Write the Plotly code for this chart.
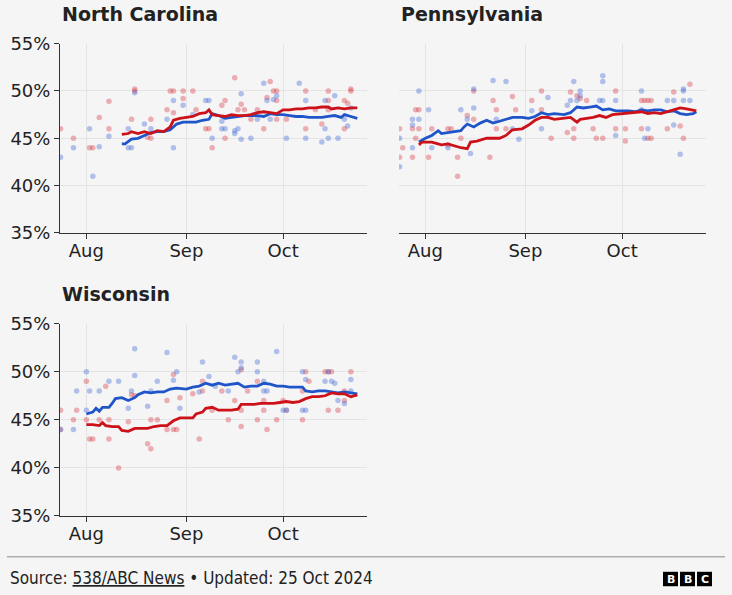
import plotly.graph_objects as go

W, H = 732, 595

# ---------------- DATA ----------------
states = ["North Carolina", "Pennsylvania", "Wisconsin"]
month_ticks = ["2024-08-01", "2024-09-01", "2024-10-01"]
month_labels = ["Aug", "Sep", "Oct"]
y_ticks = [35, 40, 45, 50, 55]
y_labels = ["35%", "40%", "45%", "50%", "55%"]

# North Carolina - averages
nc_harris_avg_dates = ["08-12", "08-13", "08-15", "08-17", "08-19", "08-21", "08-23", "08-25", "08-27", "08-29",
                       "08-31", "09-02", "09-04", "09-06", "09-08", "09-09", "09-11", "09-13", "09-15", "09-17",
                       "09-19", "09-21", "09-23", "09-25", "09-27", "09-29", "10-01", "10-03", "10-05", "10-07",
                       "10-09", "10-11", "10-13", "10-15", "10-17", "10-19", "10-20", "10-22", "10-24"]
nc_harris_avg = [44.4, 44.4, 44.9, 45.0, 45.3, 45.6, 45.7, 45.7, 45.9, 46.5,
                 46.7, 46.7, 46.7, 46.9, 47.0, 47.6, 47.4, 47.1, 47.2, 47.3,
                 47.4, 47.4, 47.4, 47.3, 47.6, 47.5, 47.5, 47.4, 47.3, 47.3,
                 47.2, 47.2, 47.2, 47.3, 47.4, 47.2, 47.5, 47.3, 47.1]
nc_trump_avg_dates = ["08-12", "08-14", "08-15", "08-17", "08-19", "08-21", "08-23", "08-25", "08-27", "08-28",
                      "08-30", "09-01", "09-03", "09-05", "09-07", "09-08", "09-09", "09-11", "09-13", "09-15",
                      "09-17", "09-19", "09-21", "09-23", "09-25", "09-27", "09-29", "10-01", "10-03", "10-05",
                      "10-07", "10-09", "10-11", "10-13", "10-15", "10-16", "10-18", "10-20", "10-22", "10-24"]
nc_trump_avg = [45.4, 45.5, 45.7, 45.5, 45.7, 45.5, 45.8, 45.7, 46.2, 46.9,
                47.1, 47.2, 47.3, 47.6, 47.7, 48.0, 47.5, 47.4, 47.3, 47.5,
                47.4, 47.4, 47.5, 47.7, 47.8, 47.7, 47.6, 48.0, 48.0, 48.1,
                48.1, 48.2, 48.2, 48.3, 48.3, 48.1, 48.2, 48.1, 48.2, 48.2]
# North Carolina - polls
nc_harris_poll_dates = ["07-24", "07-28", "08-02", "08-03", "08-05", "08-08", "08-14", "08-14", "08-15", "08-16",
                        "08-19", "08-21", "08-26", "08-28", "08-28", "08-31", "09-03", "09-07", "09-08", "09-09",
                        "09-12", "09-13", "09-12", "09-16", "09-16", "09-17", "09-18", "09-18", "09-21", "09-22",
                        "09-23", "09-25", "09-26", "09-27", "09-28", "09-29", "10-02", "10-06", "10-08", "10-08",
                        "10-13", "10-14", "10-14", "10-15", "10-17", "10-18", "10-20", "10-21", "10-22"]
nc_harris_polls = [43.0, 44.0, 46.0, 41.0, 44.1, 45.2, 46.0, 44.0, 44.0, 49.8,
                   46.5, 46.0, 47.0, 49.0, 44.0, 48.5, 47.5, 49.0, 49.0, 45.0,
                   46.0, 46.0, 46.8, 45.8, 45.5, 46.0, 49.7, 44.9, 45.0, 47.5,
                   47.0, 50.8, 49.0, 47.0, 49.1, 49.5, 45.0, 50.8, 49.0, 45.0,
                   44.6, 49.0, 46.0, 45.0, 49.5, 45.0, 47.0, 46.3, 48.2]
nc_trump_poll_dates = ["07-24", "07-28", "08-02", "08-03", "08-05", "08-08", "08-08", "08-16", "08-16", "08-15",
                       "08-21", "08-20", "08-21", "08-26", "08-27", "08-28", "08-28", "08-31", "08-31", "09-03",
                       "09-04", "09-07", "09-08", "09-09", "09-12", "09-13", "09-13", "09-16", "09-17", "09-18",
                       "09-19", "09-21", "09-23", "09-25", "09-26", "09-27", "09-28", "09-29", "09-29", "09-29",
                       "10-02", "10-08", "10-08", "10-11", "10-13", "10-15", "10-15", "10-15", "10-20", "10-20",
                       "10-21", "10-22", "10-22"]
nc_trump_polls = [46.0, 45.0, 44.0, 44.0, 47.2, 48.9, 46.0, 50.2, 50.0, 47.0,
                  47.0, 45.1, 45.0, 48.0, 50.0, 50.0, 47.7, 50.0, 49.2, 50.0,
                  48.0, 46.0, 46.0, 44.0, 48.5, 49.0, 45.0, 51.4, 48.0, 48.6,
                  48.0, 47.0, 48.0, 46.0, 49.3, 51.0, 50.0, 50.0, 49.0, 47.0,
                  47.0, 50.0, 46.0, 48.0, 46.5, 50.0, 49.0, 48.0, 46.0, 49.0,
                  48.7, 50.2, 50.0]

# Pennsylvania - averages
pa_harris_avg_dates = ["07-30", "08-01", "08-03", "08-05", "08-06", "08-08", "08-10", "08-12", "08-13", "08-14",
                       "08-16", "08-18", "08-20", "08-22", "08-24", "08-26", "08-28", "08-31", "09-02", "09-04",
                       "09-06", "09-08", "09-10", "09-13", "09-15", "09-17", "09-19", "09-21", "09-23", "09-25",
                       "09-27", "09-29", "10-01", "10-03", "10-05", "10-07", "10-09", "10-11", "10-13", "10-15",
                       "10-17", "10-19", "10-21", "10-23", "10-24"]
pa_harris_avg = [44.6, 45.0, 45.3, 45.8, 45.5, 45.6, 45.7, 45.8, 46.2, 46.5,
                 46.2, 46.6, 46.9, 46.6, 46.8, 47.0, 47.2, 47.2, 47.1, 47.3,
                 47.7, 47.5, 47.6, 47.5, 47.7, 48.3, 48.2, 48.3, 48.4, 48.0,
                 48.1, 47.9, 47.9, 47.9, 47.8, 48.0, 47.9, 48.0, 48.0, 47.8,
                 47.9, 47.6, 47.5, 47.6, 47.8]
pa_trump_avg_dates = ["07-30", "07-31", "08-03", "08-04", "08-06", "08-08", "08-10", "08-12", "08-14", "08-15",
                      "08-17", "08-20", "08-24", "08-26", "08-28", "08-31", "09-02", "09-04", "09-06", "09-08",
                      "09-10", "09-13", "09-15", "09-17", "09-18", "09-20", "09-22", "09-24", "09-26", "09-28",
                      "10-01", "10-03", "10-05", "10-07", "10-09", "10-11", "10-13", "10-15", "10-17", "10-19",
                      "10-21", "10-24"]
pa_trump_avg = [44.3, 44.6, 44.6, 44.5, 44.3, 44.4, 44.2, 44.0, 43.9, 44.6,
                44.7, 45.0, 45.0, 45.3, 45.9, 46.0, 46.4, 46.9, 47.2, 47.2,
                47.0, 47.1, 47.2, 46.7, 47.0, 47.1, 47.2, 47.4, 47.2, 47.5,
                47.6, 47.6, 47.7, 47.8, 47.6, 47.7, 47.6, 47.8, 48.0, 48.2,
                48.1, 47.9]
# Pennsylvania - polls
pa_harris_poll_dates = ["07-24", "07-24", "07-28", "07-28", "07-28", "07-30", "07-30", "08-02", "08-03", "08-08",
                        "08-12", "08-14", "08-15", "08-16", "08-16", "08-22", "08-23", "08-26", "08-28", "08-30",
                        "09-03", "09-06", "09-08", "09-14", "09-15", "09-16", "09-17", "09-18", "09-18", "09-24",
                        "09-25", "09-25", "09-25", "09-29", "09-29", "10-07", "10-07", "10-08", "10-09", "10-15",
                        "10-17", "10-17", "10-19", "10-20", "10-20", "10-20", "10-22"]
pa_harris_polls = [42.0, 45.0, 47.0, 46.4, 44.0, 50.0, 47.0, 48.0, 44.0, 44.0,
                   48.0, 47.0, 43.4, 48.2, 50.2, 51.1, 47.0, 51.0, 46.0, 44.9,
                   47.9, 46.0, 49.3, 48.5, 49.0, 51.0, 49.0, 50.0, 49.5, 49.0,
                   51.6, 51.0, 49.0, 49.0, 45.3, 50.0, 48.0, 45.0, 46.0, 49.0,
                   49.0, 46.4, 43.3, 50.0, 49.0, 50.2, 49.0]
pa_trump_poll_dates = ["07-24", "07-24", "07-25", "07-28", "07-28", "07-29", "07-29", "07-30", "07-30", "08-02",
                       "08-03", "08-08", "08-09", "08-08", "08-11", "08-11", "08-12", "08-14", "08-16", "08-16",
                       "08-21", "08-22", "08-23", "08-23", "08-26", "08-28", "08-29", "09-03", "09-06", "09-06",
                       "09-09", "09-14", "09-16", "09-15", "09-17", "09-18", "09-20", "09-16", "09-22", "09-23",
                       "09-25", "09-29", "09-29", "10-02", "10-02", "10-07", "10-08", "10-09", "10-10", "10-07",
                       "10-09", "10-10", "10-15", "10-17", "10-19", "10-20", "10-22"]
pa_trump_polls = [46.0, 43.0, 44.0, 43.0, 46.0, 48.0, 45.0, 48.0, 46.0, 43.0,
                  46.0, 46.0, 46.0, 44.3, 43.0, 41.0, 45.0, 47.4, 50.0, 47.0,
                  43.0, 49.0, 48.0, 46.0, 46.0, 49.4, 48.0, 49.0, 50.0, 48.0,
                  45.0, 45.6, 45.0, 49.9, 49.5, 49.2, 49.0, 46.0, 46.0, 45.0,
                  45.0, 50.0, 46.0, 44.7, 46.0, 49.0, 49.0, 49.0, 49.0, 46.0,
                  45.0, 45.0, 46.0, 49.9, 46.3, 45.0, 50.7]

# Wisconsin - averages
wi_harris_avg_dates = ["08-01", "08-03", "08-04", "08-05", "08-06", "08-08", "08-09", "08-10", "08-12", "08-14",
                       "08-16", "08-17", "08-19", "08-21", "08-23", "08-25", "08-27", "08-29", "09-01", "09-03",
                       "09-05", "09-07", "09-09", "09-11", "09-13", "09-15", "09-17", "09-19", "09-21", "09-23",
                       "09-25", "09-27", "09-29", "10-01", "10-03", "10-05", "10-07", "10-08", "10-10", "10-12",
                       "10-14", "10-16", "10-18", "10-20", "10-22", "10-24"]
wi_harris_avg = [45.6, 45.8, 46.2, 45.9, 46.3, 46.3, 46.7, 47.2, 47.3, 47.0,
                 47.3, 47.6, 47.9, 47.8, 47.9, 47.9, 48.2, 48.3, 48.2, 48.4,
                 48.5, 48.8, 48.6, 48.8, 48.6, 48.7, 48.8, 48.4, 48.5, 48.5,
                 48.8, 48.7, 48.5, 48.5, 48.4, 48.4, 48.4, 48.0, 47.9, 48.0,
                 48.0, 47.9, 47.8, 47.9, 47.8, 47.7]
wi_trump_avg_dates = ["08-01", "08-03", "08-05", "08-06", "08-07", "08-09", "08-11", "08-12", "08-14", "08-16",
                      "08-18", "08-20", "08-22", "08-24", "08-26", "08-28", "08-30", "09-01", "09-03", "09-04",
                      "09-06", "09-07", "09-09", "09-11", "09-13", "09-15", "09-17", "09-18", "09-20", "09-22",
                      "09-24", "09-26", "09-28", "09-30", "10-02", "10-04", "10-06", "10-08", "10-10", "10-12",
                      "10-14", "10-16", "10-18", "10-20", "10-22", "10-24"]
wi_trump_avg = [44.5, 44.5, 44.4, 44.7, 44.4, 44.3, 44.3, 43.9, 43.8, 44.1,
                44.1, 44.1, 44.3, 44.4, 44.4, 44.9, 45.2, 45.2, 45.2, 45.6,
                45.8, 46.2, 46.3, 46.0, 46.0, 46.0, 46.1, 46.6, 46.6, 46.6,
                46.7, 46.7, 46.7, 46.8, 46.9, 46.8, 46.9, 47.2, 47.4, 47.4,
                47.5, 47.8, 47.7, 47.7, 47.4, 47.6]
# Wisconsin - polls
wi_harris_poll_dates = ["07-24", "07-28", "07-29", "08-01", "08-01", "08-02", "08-05", "08-08", "08-11", "08-14",
                        "08-15", "08-16", "08-16", "08-20", "08-21", "08-23", "08-26", "08-28", "08-29", "08-30",
                        "09-05", "09-06", "09-08", "09-10", "09-14", "09-16", "09-17", "09-18", "09-18", "09-23",
                        "09-23", "09-25", "09-25", "09-26", "09-29", "10-01", "10-02", "10-07", "10-08", "10-07",
                        "10-08", "10-14", "10-15", "10-16", "10-17", "10-18", "10-20", "10-22", "10-22"]
wi_harris_polls = [44.0, 44.0, 48.0, 50.0, 46.0, 48.0, 48.0, 49.0, 49.0, 46.2,
                   48.0, 52.4, 49.6, 46.4, 48.0, 49.0, 52.0, 49.1, 50.0, 46.2,
                   47.9, 51.0, 49.5, 48.5, 48.0, 51.5, 50.0, 51.0, 50.4, 51.0,
                   50.0, 49.0, 48.0, 48.0, 52.1, 46.0, 46.0, 50.0, 49.2, 46.0,
                   46.0, 49.0, 50.0, 49.0, 48.8, 47.0, 46.7, 49.2, 48.0]
wi_trump_poll_dates = ["07-24", "07-24", "07-28", "07-29", "08-01", "08-01", "08-02", "08-03", "08-05", "08-07",
                       "08-08", "08-08", "08-11", "08-14", "08-15", "08-16", "08-20", "08-21", "08-21", "08-23",
                       "08-26", "08-26", "08-28", "08-28", "08-29", "08-30", "09-03", "09-05", "09-06", "09-06",
                       "09-09", "09-12", "09-14", "09-16", "09-18", "09-18", "09-18", "09-20", "09-23", "09-23",
                       "09-25", "09-25", "09-26", "09-29", "10-01", "10-02", "10-07", "10-07", "10-08", "10-09",
                       "10-14", "10-15", "10-16", "10-15", "10-18", "10-20", "10-22", "10-20"]
wi_trump_polls = [46.0, 44.0, 45.0, 46.0, 49.0, 45.0, 43.0, 43.0, 45.0, 48.5,
                  45.0, 43.0, 40.0, 44.8, 47.6, 47.5, 42.5, 42.0, 45.0, 45.0,
                  44.0, 47.0, 49.7, 44.0, 44.0, 47.3, 47.7, 43.0, 48.0, 49.0,
                  46.0, 48.0, 45.0, 47.0, 50.2, 44.3, 46.0, 48.0, 45.0, 49.0,
                  47.0, 46.0, 44.0, 45.0, 47.0, 46.0, 48.0, 45.0, 50.0, 49.0,
                  50.0, 50.0, 50.0, 46.0, 46.0, 47.0, 50.0, 48.0]

# ---------------- STYLE ----------------
BG = "#f5f5f5"
BLUE = "#1f55c9"
RED = "#cc1119"
BLUE_DOT = "rgba(70,110,215,0.40)"
RED_DOT = "rgba(215,50,60,0.37)"
GRID = "#e4e4e4"
AXIS = "#333333"
TXT = "#222222"
FONT = "DejaVu Sans"


def d(lst):
    return ["2024-" + s for s in lst]


def py(v):
    """target vertical pixel -> paper fraction (compensates the capture's vertical mapping)"""
    return 1 - ((v - 9.3) / 0.968) / H


panels = [
    dict(name=states[0], ax="", hd=nc_harris_avg_dates, hv=nc_harris_avg, td=nc_trump_avg_dates, tv=nc_trump_avg,
         hpd=nc_harris_poll_dates, hpv=nc_harris_polls, tpd=nc_trump_poll_dates, tpv=nc_trump_polls),
    dict(name=states[1], ax="2", hd=pa_harris_avg_dates, hv=pa_harris_avg, td=pa_trump_avg_dates, tv=pa_trump_avg,
         hpd=pa_harris_poll_dates, hpv=pa_harris_polls, tpd=pa_trump_poll_dates, tpv=pa_trump_polls),
    dict(name=states[2], ax="3", hd=wi_harris_avg_dates, hv=wi_harris_avg, td=wi_trump_avg_dates, tv=wi_trump_avg,
         hpd=wi_harris_poll_dates, hpv=wi_harris_polls, tpd=wi_trump_poll_dates, tpv=wi_trump_polls),
]

# pixel boxes: (left, right, top, bottom)
boxes = [(60, 367, 42, 232), (399, 706, 42, 232), (60, 367, 323, 516)]

fig = go.Figure()
for p in panels:
    xa = "x" + p["ax"]
    ya = "y" + p["ax"]
    fig.add_trace(go.Scatter(x=d(p["tpd"]), y=p["tpv"], mode="markers", xaxis=xa, yaxis=ya,
                             marker=dict(size=5.5, color=RED_DOT, line=dict(width=0)), showlegend=False))
    fig.add_trace(go.Scatter(x=d(p["hpd"]), y=p["hpv"], mode="markers", xaxis=xa, yaxis=ya,
                             marker=dict(size=5.5, color=BLUE_DOT, line=dict(width=0)), showlegend=False))
    fig.add_trace(go.Scatter(x=d(p["hd"]), y=p["hv"], mode="lines", xaxis=xa, yaxis=ya,
                             line=dict(color=BLUE, width=2.8), showlegend=False))
    fig.add_trace(go.Scatter(x=d(p["td"]), y=p["tv"], mode="lines", xaxis=xa, yaxis=ya,
                             line=dict(color=RED, width=2.8), showlegend=False))

layout = dict(width=W, height=H, margin=dict(l=0, r=0, t=0, b=0),
              paper_bgcolor=BG, plot_bgcolor=BG, font=dict(family=FONT, color=TXT))
annotations = []
for i, (p, (l, r, t, b)) in enumerate(zip(panels, boxes)):
    key = p["ax"]
    show_y = (i != 1)
    layout["xaxis" + key] = dict(domain=[l / W, r / W], range=["2024-07-23 20:00", "2024-10-27"],
                                 tickvals=month_ticks, ticktext=month_labels, showgrid=True, gridcolor=GRID,
                                 gridwidth=1, showline=True, linecolor=AXIS, linewidth=1, ticks="outside",
                                 ticklen=5, tickcolor=AXIS, tickfont=dict(size=18, color=TXT),
                                 ticklabelstandoff=-4,
                                 anchor="y" + key, zeroline=False, fixedrange=True)
    layout["yaxis" + key] = dict(domain=[py(b), py(t)], range=[35, 55], tickvals=y_ticks,
                                 ticktext=y_labels, showticklabels=show_y, showgrid=True, gridcolor=GRID,
                                 gridwidth=1, showline=show_y, linecolor=AXIS, linewidth=1,
                                 ticks="outside" if show_y else "", ticklen=5, tickcolor=AXIS,
                                 tickfont=dict(size=18, color=TXT), anchor="x" + key, zeroline=False,
                                 fixedrange=True)
    annotations.append(dict(text="<b>" + p["name"] + "</b>", x=(l + 0) / W, y=py(t - 30),
                            xref="paper", yref="paper", xanchor="left", yanchor="middle",
                            showarrow=False, font=dict(size=19, color=TXT, family="DejaVu Sans")))

annotations.append(dict(text="Source: <u>538/ABC News</u> \u2022 Updated: 25 Oct 2024", x=8 / W, y=py(578),
                        xref="paper", yref="paper", xanchor="left", yanchor="middle", showarrow=False,
                        font=dict(size=17, color=TXT, family="DejaVu Sans Condensed, Liberation Sans Narrow, Noto Sans")))
shapes = [dict(type="line", xref="paper", yref="paper", x0=7 / W, x1=725 / W, y0=py(557), y1=py(557),
               line=dict(color="#8a8a8a", width=1))]
for j, letter in enumerate(["B", "B", "C"]):
    x0 = 663 + j * 17
    shapes.append(dict(type="rect", xref="paper", yref="paper", x0=x0 / W, x1=(x0 + 15) / W,
                       y0=py(586.5), y1=py(572), fillcolor="#000000", line=dict(width=0)))
    annotations.append(dict(text="<b>" + letter + "</b>", x=(x0 + 7.5) / W, y=py(579.5), xref="paper",
                            yref="paper", xanchor="center", yanchor="middle", showarrow=False,
                            font=dict(size=11, color="#ffffff", family="DejaVu Sans")))
layout["annotations"] = annotations
layout["shapes"] = shapes
fig.update_layout(**layout)

post = (
    "document.documentElement.style.margin='0';"
    "document.documentElement.style.padding='0';"
    "document.documentElement.style.background='" + BG + "';"
    "document.body.style.margin='0';document.body.style.padding='0';"
    "document.body.style.overflow='hidden';document.documentElement.style.overflow='hidden';"
)
fig.write_html("out.html", config={"displayModeBar": False, "responsive": False}, post_script=post)
